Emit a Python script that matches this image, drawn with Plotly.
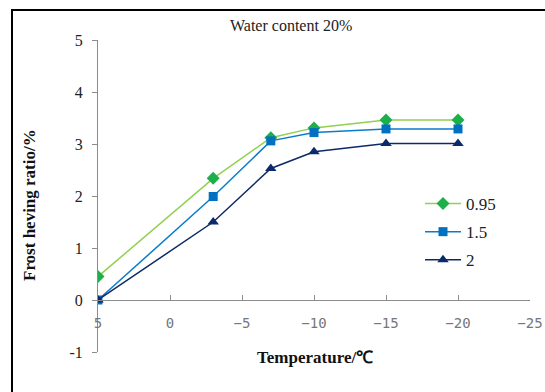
import plotly.graph_objects as go

temps = [5, -3, -7, -10, -15, -20]
s095 = [0.45, 2.34, 3.12, 3.31, 3.46, 3.46]
s15 = [0.0, 1.99, 3.06, 3.22, 3.29, 3.29]
s2 = [0.0, 1.50, 2.53, 2.85, 3.01, 3.01]
names = ["0.95", "1.5", "2"]
xticks = [5, 0, -5, -10, -15, -20, -25]
xticklabels = ["5", "0", "\u22125", "\u221210", "\u221215", "\u221220", "\u221225"]
yticks = [-1, 0, 1, 2, 3, 4, 5]
yticklabels = ["-1", "0", "1", "2", "3", "4", "5"]

W, H = 545, 392
L, R, T, B = 98, 15, 40, 40
pw, ph = W - L - R, H - T - B

def px(x):
    return (x - L) / pw

def py(y):
    return (H - B - y) / ph

fig = go.Figure()
styles = [
    dict(line=dict(color="#92D050", width=1.5), marker=dict(symbol="diamond", size=10, color="#1DB04A")),
    dict(line=dict(color="#0A7CCB", width=1.5), marker=dict(symbol="square", size=9, color="#0070C0")),
    dict(line=dict(color="#0E2A66", width=1.5), marker=dict(symbol="triangle-up", size=10, color="#0B2A6B")),
]
for i, (name, vals) in enumerate(zip(names, [s095, s15, s2])):
    fig.add_trace(go.Scatter(x=temps, y=vals, mode="lines+markers", name=name,
                             legendgroup=name, **styles[i]))

fig.update_layout(
    template="none",
    width=W, height=H,
    margin=dict(l=L, r=R, t=T, b=B, autoexpand=False),
    paper_bgcolor="white", plot_bgcolor="white",
    font=dict(family="Liberation Serif", color="#222"),
    showlegend=True,
    legend=dict(x=px(420), y=py(186), xanchor="left", yanchor="top",
                font=dict(family="Liberation Serif", size=17, color="#222"),
                bgcolor="rgba(0,0,0,0)", borderwidth=0, tracegroupgap=3, itemwidth=36),
    xaxis=dict(range=[5, -25], tickvals=xticks, ticktext=xticklabels, automargin=False,
               showgrid=False, zeroline=False, showline=True, linecolor="#8C8C8C", linewidth=1,
               ticks="inside", ticklen=5, tickcolor="#8C8C8C", tickwidth=1,
               anchor="free", position=1/6, ticklabelstandoff=10,
               tickfont=dict(family="DejaVu Sans Mono", size=14, color="#777777")),
    yaxis=dict(range=[-1, 5], tickvals=yticks, ticktext=yticklabels, automargin=False,
               showgrid=False, zeroline=False,
               showline=True, linecolor="#8C8C8C", linewidth=1,
               ticks="outside", ticklen=5, tickcolor="#8C8C8C", tickwidth=1, ticklabelstandoff=6,
               tickfont=dict(family="Liberation Serif", size=16, color="#222")),
    shapes=[dict(type="rect", xref="paper", yref="paper",
                 x0=px(12), x1=px(600), y0=py(420), y1=py(10),
                 line=dict(color="black", width=2), layer="above")],
    annotations=[
        dict(text="Water content 20%", xref="paper", yref="paper", x=px(291), y=py(26),
             xanchor="center", yanchor="middle",
             showarrow=False, font=dict(family="Liberation Serif", size=16, color="#222")),
        dict(text="<b>Temperature</b><b>/℃</b>", xref="paper", yref="paper", x=px(315), y=py(357),
             xanchor="center", yanchor="middle",
             showarrow=False, font=dict(family="Liberation Serif", size=17, color="#111")),
        dict(text="<b>Frost heving ratio/%</b>", xref="paper", yref="paper", x=px(29), y=py(205),
             xanchor="center", yanchor="middle",
             showarrow=False, textangle=-90, font=dict(family="Liberation Serif", size=17, color="#111")),
    ],
)
fig.write_html("out.html")
